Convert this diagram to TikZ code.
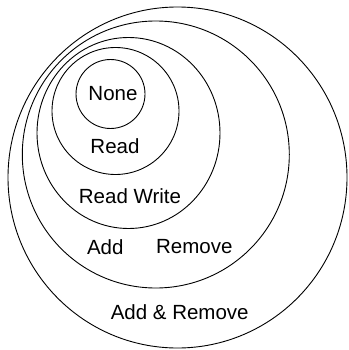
\documentclass[tikz,border=0pt]{standalone}
\usepackage{fontspec}
\setmainfont{Liberation Sans}

\begin{document}
\begin{tikzpicture}[x=1pt, y=-1pt, line width=0.9pt,
  lbl/.style={font=\fontsize{20.5}{24}\selectfont, inner sep=0pt}]
  \useasboundingbox (0,0) rectangle (348,350);

  \coordinate (N) at (110.5,94);
  \coordinate (R) at (115.5,111);
  \coordinate (W) at (128.5,133);
  \coordinate (A) at (155.8,154.5);
  \coordinate (M) at (177.5,177.5);

  \draw (N) circle (34.5);
  \draw (R) circle (63.5);
  \draw (W) ellipse [x radius=91.5, y radius=95.5];
  \draw (A) circle (133.5);
  \draw (M) ellipse [x radius=169.5, y radius=170.5];

  \node[lbl] (none)   at (113,94)    {None};
  \node[lbl] (read)   at (115,146)   {Read};
  \node[lbl] (rw)     at (130,196)   {Read Write};
  \node[lbl] (add)    at (105.3,247.5) {Add};
  \node[lbl] (remove) at (194.3,246.5) {Remove};
  \node[lbl] (addrem) at (179.7,312.5) {Add \& Remove};
\end{tikzpicture}
\end{document}
